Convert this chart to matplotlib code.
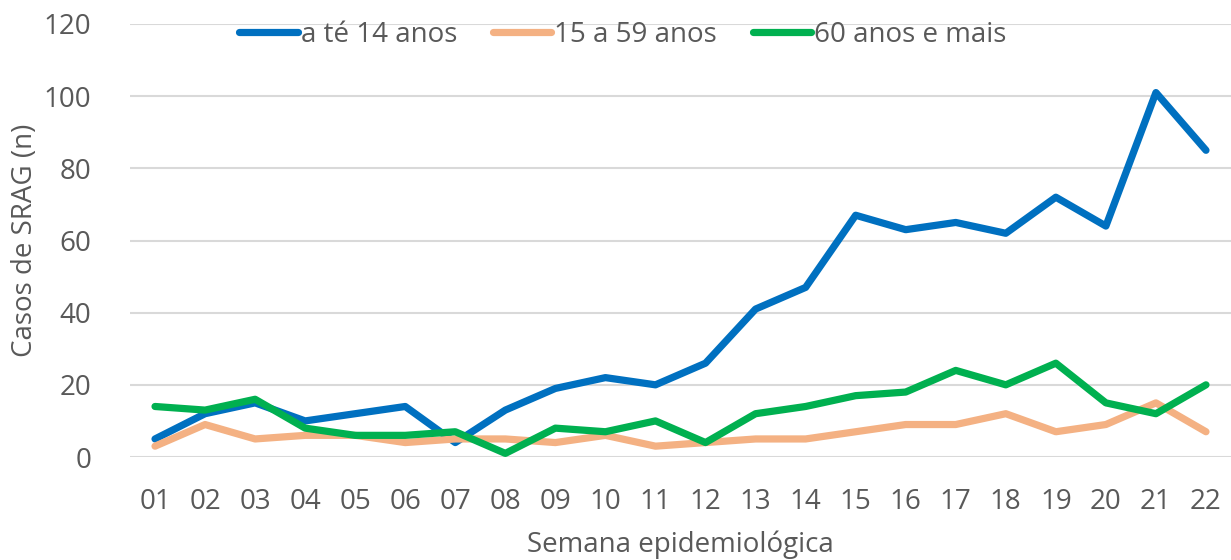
import matplotlib
matplotlib.use("Agg")
import matplotlib.pyplot as plt

weeks = ["01", "02", "03", "04", "05", "06", "07", "08", "09", "10", "11",
         "12", "13", "14", "15", "16", "17", "18", "19", "20", "21", "22"]
ate_14 = [5, 12, 15, 10, 12, 14, 4, 13, 19, 22, 20, 26, 41, 47, 67, 63, 65, 62, 72, 64, 101, 85]
de_15_59 = [3, 9, 5, 6, 6, 4, 5, 5, 4, 6, 3, 4, 5, 5, 7, 9, 9, 12, 7, 9, 15, 7]
mais_60 = [14, 13, 16, 8, 6, 6, 7, 1, 8, 7, 10, 4, 12, 14, 17, 18, 24, 20, 26, 15, 12, 20]
series_names = ["a té 14 anos", "15 a 59 anos", "60 anos e mais"]
yticks = [0, 20, 40, 60, 80, 100, 120]

plt.rcParams['font.family'] = ['Open Sans', 'DejaVu Sans']
txt = "#595959"

fig = plt.figure(figsize=(12.31, 5.6), dpi=100)
ax = fig.add_axes([130/1231, 1-457/560, 1-130/1231, (457-24)/560])

x = list(range(1, len(weeks) + 1))
colors = ["#0070C0", "#F4B183", "#00B050"]
for data, name, c in zip([ate_14, de_15_59, mais_60], series_names, colors):
    ax.plot(x, data, color=c, lw=5.2, solid_capstyle='round', solid_joinstyle='round', label=name)

ax.set_xlim(0.5, len(weeks) + 0.5)
ax.set_ylim(0, 120)
ax.set_yticks(yticks)
ax.set_xticks(x)
ax.set_xticklabels(weeks)
ax.grid(axis='y', color='#d9d9d9', lw=1.5)
ax.set_axisbelow(True)
for s in ax.spines.values():
    s.set_visible(False)
ax.tick_params(axis='both', length=0, labelsize=20, labelcolor=txt)
ax.tick_params(axis='x', pad=22)
ax.tick_params(axis='y', pad=28)
ax.set_ylabel("Casos de SRAG (n)", fontsize=20, color=txt, labelpad=3)
ax.set_xlabel("Semana epidemiológica", fontsize=20, color=txt, labelpad=11)

fig.legend(loc='center', bbox_to_anchor=(623/1231, 1-35/560), ncol=3, frameon=False,
           fontsize=20, handlelength=2.1, handletextpad=0.1, columnspacing=1.3,
           labelcolor=txt)

fig.savefig("out.png", dpi=100)
